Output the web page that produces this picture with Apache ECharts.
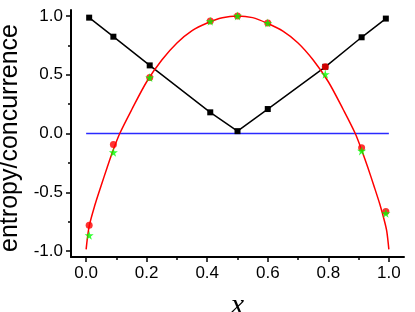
<!DOCTYPE html>
<html>
<head>
<meta charset="utf-8">
<script src="https://cdn.jsdelivr.net/npm/echarts@6/dist/echarts.min.js"></script>
<style>html,body{margin:0;padding:0;background:#fff}#c{width:415px;height:312px}</style>
</head>
<body>
<div id="c"></div>
<script>
// Smooth theoretical curve
const curveX = [0, 0.01, 0.03, 0.05, 0.07, 0.09, 0.111, 0.15, 0.2, 0.25, 0.3, 0.35, 0.4, 0.45, 0.5, 0.55, 0.6, 0.65, 0.7, 0.75, 0.8, 0.85, 0.889, 0.91, 0.93, 0.95, 0.97, 0.985, 0.993, 1.0];
const curveY = [-0.985, -0.79, -0.6, -0.44, -0.285, -0.137, 0.0, 0.2, 0.44, 0.625, 0.77, 0.875, 0.94, 0.985, 1.0, 0.985, 0.935, 0.87, 0.77, 0.625, 0.44, 0.2, 0.0, -0.14, -0.285, -0.44, -0.6, -0.74, -0.83, -0.985];
// Sampled points
const sampleX = [0.01, 0.09, 0.21, 0.41, 0.5, 0.6, 0.79, 0.91, 0.99];
const entropy = [0.985, 0.823, 0.579, 0.18, 0.02, 0.208, 0.567, 0.818, 0.977];
const redPoints = [-0.78, -0.094, 0.476, 0.957, 1.0, 0.94, 0.567, -0.122, -0.664];
const greenPoints = [-0.866, -0.16, 0.476, 0.955, 1.0, 0.94, 0.504, -0.148, -0.678];
// Zero line
const zeroX = [0, 1];
const zeroY = [0, 0];
// Ticks
const xMajorTicks = [0, 0.2, 0.4, 0.6, 0.8, 1.0];
const xMinorTicks = [0.1, 0.3, 0.5, 0.7, 0.9];
const yMajorTicks = [-1, -0.5, 0, 0.5, 1];
const yMinorTicks = [-0.75, -0.25, 0.25, 0.75];

const pairs = (xs, ys) => xs.map((x, i) => [x, ys[i]]);
const STAR = 'path://M50,0 L61,35 L98,35 L68,57 L79,91 L50,70 L21,91 L32,57 L2,35 L39,35 Z';
const labelFont = {fontFamily: 'Liberation Sans, Arial, sans-serif', fontSize: 17, color: '#000'};

const chart = echarts.init(document.getElementById('c'), null, {renderer: 'canvas'});
chart.setOption({
  animation: false,
  grid: {left: 71, right: 11, top: 10, bottom: 55, containLabel: false, outerBoundsMode: 'none'},
  xAxis: [
    {
      type: 'value', min: -0.05, max: 1.05, position: 'bottom',
      name: 'x', nameLocation: 'middle', nameGap: 34,
      nameTextStyle: {fontFamily: 'Liberation Serif, Times New Roman, serif', fontStyle: 'italic', fontSize: 30, color: '#000'},
      axisLine: {show: true, onZero: false, lineStyle: {color: '#000', width: 2}},
      axisTick: {show: true, inside: false, length: 5, customValues: xMajorTicks, lineStyle: {color: '#000', width: 1.5}},
      axisLabel: Object.assign({margin: 8, customValues: xMajorTicks, formatter: v => v.toFixed(1)}, labelFont),
      splitLine: {show: false}
    },
    {
      type: 'value', min: -0.05, max: 1.05, position: 'bottom',
      axisLine: {show: false, onZero: false},
      axisTick: {show: true, inside: false, length: 3, customValues: xMinorTicks, lineStyle: {color: '#000', width: 1.5}},
      axisLabel: {show: false},
      splitLine: {show: false}
    }
  ],
  yAxis: [
    {
      type: 'value', min: -1.05, max: 1.05, position: 'left',
      name: 'entropy/concurrence', nameLocation: 'middle', nameGap: 46,
      nameTextStyle: {fontFamily: 'Liberation Sans, Arial, sans-serif', fontSize: 25, color: '#000', padding: [0, 9, 0, 0]},
      axisLine: {show: true, onZero: false, lineStyle: {color: '#000', width: 2}},
      axisTick: {show: true, inside: false, length: 5, customValues: yMajorTicks, lineStyle: {color: '#000', width: 1.5}},
      axisLabel: Object.assign({margin: 8, customValues: yMajorTicks, formatter: v => v.toFixed(1)}, labelFont),
      splitLine: {show: false}
    },
    {
      type: 'value', min: -1.05, max: 1.05, position: 'left',
      axisLine: {show: false, onZero: false},
      axisTick: {show: true, inside: false, length: 3, customValues: yMinorTicks, lineStyle: {color: '#000', width: 1.5}},
      axisLabel: {show: false},
      splitLine: {show: false}
    }
  ],
  series: [
    {
      type: 'line', data: pairs(sampleX, entropy), xAxisIndex: 0, yAxisIndex: 0,
      symbol: 'rect', symbolSize: 6, itemStyle: {color: '#000'},
      lineStyle: {color: '#000', width: 1.5}, z: 2
    },
    {
      type: 'line', data: pairs(zeroX, zeroY), xAxisIndex: 0, yAxisIndex: 0,
      symbol: 'none', lineStyle: {color: '#2a2aff', width: 1.5}, z: 2
    },
    {
      type: 'line', data: pairs(curveX, curveY), xAxisIndex: 0, yAxisIndex: 0,
      symbol: 'none', smooth: 0.3, lineStyle: {color: '#ff0000', width: 1.5}, z: 3
    },
    {
      type: 'scatter', data: pairs(sampleX, redPoints), xAxisIndex: 0, yAxisIndex: 0,
      symbol: 'circle', symbolSize: 7, itemStyle: {color: '#ff0000'}, z: 4
    },
    {
      type: 'scatter', data: pairs(sampleX, greenPoints), xAxisIndex: 0, yAxisIndex: 0,
      symbol: STAR, symbolSize: 9, itemStyle: {color: '#00ff00'}, z: 5
    }
  ]
});
</script>
</body>
</html>
